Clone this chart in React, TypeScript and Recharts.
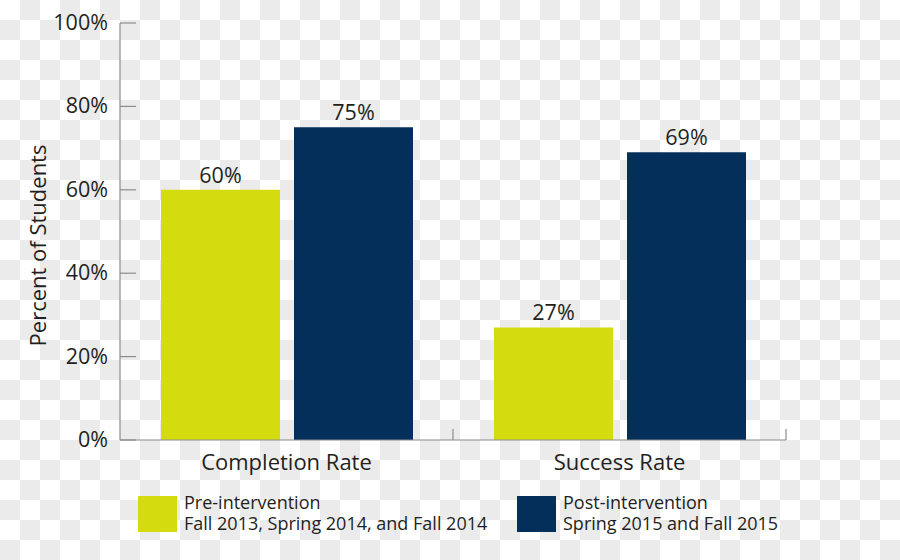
import React from 'react';
import { BarChart, Bar, XAxis, YAxis, LabelList, Legend, Customized } from 'recharts';

const categories = ['Completion Rate', 'Success Rate'];
const preValues = [60, 27];
const postValues = [75, 69];
const yTicks = [0, 20, 40, 60, 80, 100];
const seriesNames = ['Pre-intervention', 'Post-intervention'];
const seriesSubtitles = ['Fall 2013, Spring 2014, and Fall 2014', 'Spring 2015 and Fall 2015'];
const seriesColors = ['#d4dc10', '#032f5a'];

const data = categories.map((c, i) => ({ name: c, pre: preValues[i], post: postValues[i] }));

const FONT = '"Open Sans", sans-serif';
const TEXT = '#231f20';
const AXIS = '#8c8c8c';
const CHECK = '#ebebeb';

const YTick = (props: any) => {
  const { x, y, payload } = props;
  return (
    <g>
      <line x1={x + 12} x2={x + 28} y1={y} y2={y} stroke={AXIS} strokeWidth={1.2} />
      <text x={x} y={y} dy={7} textAnchor="end" fontFamily={FONT} fontSize={21.5} fill={TEXT}>
        {payload.value}%
      </text>
    </g>
  );
};

const XTick = (props: any) => {
  const { x, y, payload } = props;
  const half = payload && payload.offset ? payload.offset : 166.5;
  return (
    <g>
      <line x1={x + half} x2={x + half} y1={y} y2={y - 11} stroke={AXIS} strokeWidth={1.2} />
      <text x={x} y={y} dy={30} textAnchor="middle" fontFamily={FONT} fontSize={22} fill={TEXT}>
        {payload.value}
      </text>
    </g>
  );
};

const YLabel = (props: any) => {
  const vb = props.viewBox || { x: 0, y: 23, width: 120, height: 417 };
  const cx = vb.x + 38;
  const cy = vb.y + vb.height / 2 + 14;
  return (
    <text
      x={cx}
      y={cy}
      dy={8}
      textAnchor="middle"
      transform={`rotate(-90, ${cx}, ${cy})`}
      fontFamily={FONT}
      fontSize={22}
      fill={TEXT}
    >
      Percent of Students
    </text>
  );
};

const Checker = () => (
  <g>
    <defs>
      <pattern id="checker" x={0} y={0} width={40} height={40} patternUnits="userSpaceOnUse">
        <rect x={0} y={0} width={40} height={40} fill="#ffffff" />
        <rect x={20} y={0} width={20} height={20} fill={CHECK} />
        <rect x={0} y={20} width={20} height={20} fill={CHECK} />
      </pattern>
    </defs>
    <rect x={0} y={0} width={900} height={560} fill="url(#checker)" />
  </g>
);

const LegendContent = () => {
  const lefts = [138, 517];
  return (
    <div style={{ position: 'relative', width: 900, height: 40 }}>
      {seriesNames.map((n, i) => (
        <div key={n} style={{ position: 'absolute', left: lefts[i], top: 0, display: 'flex', alignItems: 'flex-start' }}>
          <div style={{ width: 39, height: 36, background: seriesColors[i] }} />
          <div
            style={{
              marginLeft: 7,
              marginTop: -4,
              fontFamily: FONT,
              fontSize: 18,
              lineHeight: '21px',
              color: TEXT,
              whiteSpace: 'pre',
            }}
          >
            {`${n}\n${seriesSubtitles[i]}`}
          </div>
        </div>
      ))}
    </div>
  );
};

export default function App() {
  return (
    <div style={{ position: 'absolute', left: 0, top: 0, width: 900, height: 560, background: '#ffffff' }}>
      <BarChart
        width={900}
        height={560}
        data={data}
        margin={{ top: 23, right: 114, bottom: 70, left: 0 }}
        barSize={119}
        barGap={14}
      >
        <Customized component={<Checker />} />
        <XAxis
          dataKey="name"
          height={50}
          axisLine={{ stroke: AXIS, strokeWidth: 1.2 }}
          tickLine={false}
          tickSize={0}
          tickMargin={0}
          tick={<XTick />}
          interval={0}
        />
        <YAxis
          width={120}
          domain={[0, 100]}
          ticks={yTicks}
          interval={0}
          axisLine={{ stroke: AXIS, strokeWidth: 1.2 }}
          tickLine={false}
          tickSize={0}
          tickMargin={12}
          tick={<YTick />}
          label={<YLabel />}
        />
        <Legend
          layout="vertical"
          align="center"
          verticalAlign="middle"
          wrapperStyle={{ left: 0, top: 496, width: 900 }}
          content={<LegendContent />}
        />
        <Bar dataKey="pre" name={seriesNames[0]} fill={seriesColors[0]} isAnimationActive={false}>
          <LabelList
            dataKey="pre"
            position="top"
            offset={7}
            formatter={(v: any) => `${v}%`}
            style={{ fontFamily: FONT, fontSize: 21.5, fill: TEXT }}
          />
        </Bar>
        <Bar dataKey="post" name={seriesNames[1]} fill={seriesColors[1]} isAnimationActive={false}>
          <LabelList
            dataKey="post"
            position="top"
            offset={7}
            formatter={(v: any) => `${v}%`}
            style={{ fontFamily: FONT, fontSize: 21.5, fill: TEXT }}
          />
        </Bar>
      </BarChart>
    </div>
  );
}
